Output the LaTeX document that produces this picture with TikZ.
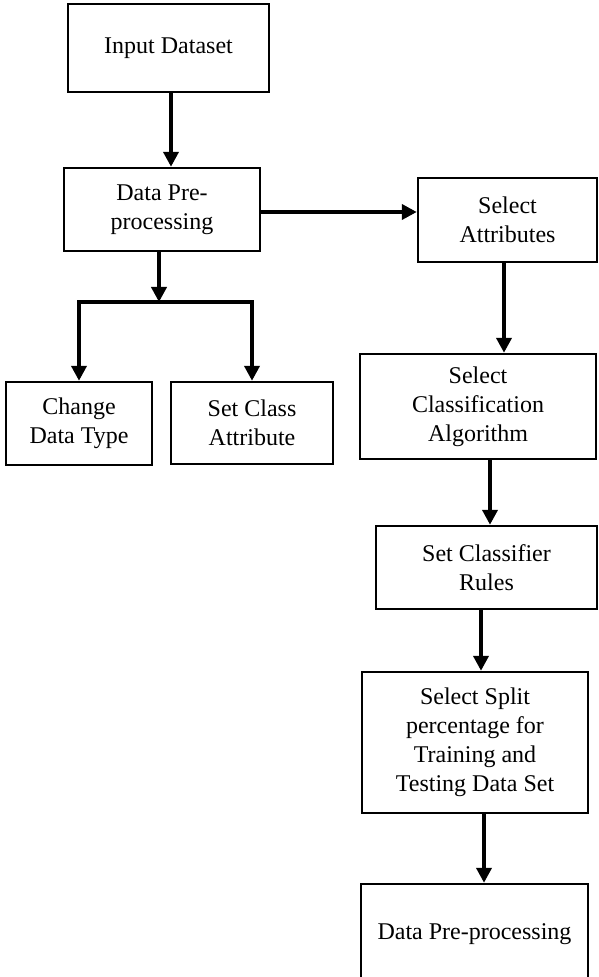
\documentclass[tikz,border=0pt]{standalone}
\usepackage{fontspec}
\setmainfont{Liberation Serif}
\usetikzlibrary{arrows.meta}

\begin{document}
\begin{tikzpicture}[x=0.5pt,y=-0.5pt,
  stage/.style={draw,line width=1.2pt,align=center,inner sep=2pt,
    font=\fontsize{12}{14.5}\selectfont},
  arr/.style={line width=2.2pt,-{Triangle[width=7.5pt,length=7.5pt]}}]
\useasboundingbox (0,0) rectangle (598,977);

% left column
\node[stage,minimum width=100.5pt,minimum height=44pt] (input) at (168.5,48) {Input Dataset};
\node[stage,minimum width=98pt,minimum height=41.5pt] (prep) at (162,209.5) {Data Pre-\\processing};
\node[stage,minimum width=73pt,minimum height=41.5pt] (chtype) at (79,423.5) {Change\\Data Type};
\node[stage,minimum width=81pt,minimum height=41pt] (setcls) at (252,423) {Set Class\\Attribute};

% right column
\node[stage,minimum width=89.5pt,minimum height=42pt] (selattr) at (507.5,220) {Select\\Attributes};
\node[stage,minimum width=118pt,minimum height=52.5pt] (selalg) at (478,406.5) {Select\\Classification\\Algorithm};
\node[stage,minimum width=110.5pt,minimum height=41.5pt] (rules) at (486.5,567.5) {Set Classifier\\Rules};
\node[stage,minimum width=113pt,minimum height=70.5pt] (split) at (475,742.5) {Select Split\\percentage for\\Training and\\Testing Data Set};
\node[stage,minimum width=113.5pt,minimum height=50pt] (prep2) at (474.5,934) {Data Pre-processing};

\coordinate (fork) at (159,302);

% connectors
\draw[arr] ([xshift=1.25pt]input.south) -- ([xshift=1.25pt]input.south |- prep.north);
\draw[arr] ([xshift=-1.5pt]prep.south) -- (fork);
\draw[arr] (fork) -| (chtype.north);
\draw[arr] (fork) -| (setcls.north);
\draw[arr] ([yshift=-1.25pt]prep.east) -- ([yshift=-1.25pt]prep.east -| selattr.west);
\draw[arr] ([xshift=-1.75pt]selattr.south) -- ([xshift=-1.75pt]selattr.south |- selalg.north);
\draw[arr] ([xshift=6pt]selalg.south) -- ([xshift=6pt]selalg.south |- rules.north);
\draw[arr] ([xshift=-2.75pt]rules.south) -- ([xshift=-2.75pt]rules.south |- split.north);
\draw[arr] ([xshift=4.5pt]split.south) -- ([xshift=4.5pt]split.south |- prep2.north);
\end{tikzpicture}
\end{document}
